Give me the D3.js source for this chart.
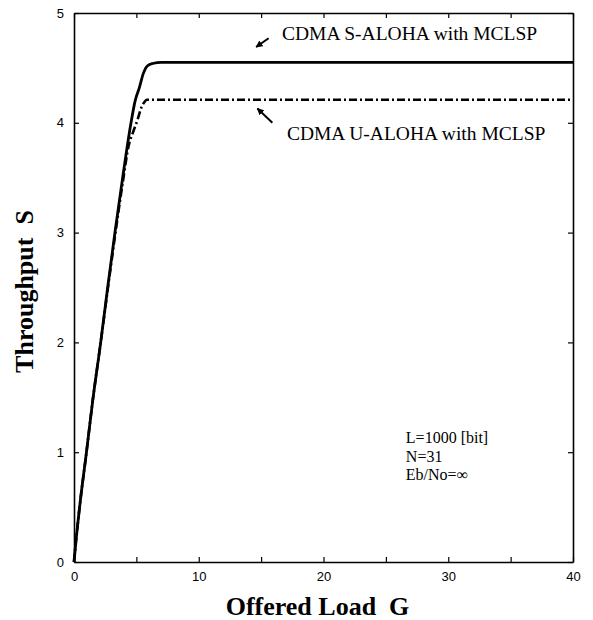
<!DOCTYPE html>
<html>
<head>
<meta charset="utf-8">
<script src="https://cdn.jsdelivr.net/npm/d3@7"></script>
<style>
	body { margin: 0; background: #fff; }
	svg { display: block; }
</style>
</head>
<body>
<div id="chart"></div>
<script>
'use strict';

// offered load G and throughput S
const sAlohaG = [0, 0.15, 0.5, 1.0, 1.5, 2.14, 2.7, 3.28, 3.9, 4.57, 4.9, 5.24, 5.56, 5.9, 6.3, 7, 10, 20, 30, 40];
const sAlohaS = [0, 0.18, 0.55, 1.0, 1.47, 2.0, 2.5, 3.0, 3.5, 4.0, 4.2, 4.32, 4.45, 4.52, 4.54, 4.55, 4.55, 4.55, 4.55, 4.55];

const uAlohaG = [0, 0.15, 0.5, 1.0, 1.5, 2.14, 2.7, 3.3, 3.9, 4.4, 4.75, 5.1, 5.4, 5.65, 5.85, 6.3, 7, 10, 20, 30, 40];
const uAlohaS = [0, 0.18, 0.55, 1.0, 1.47, 2.0, 2.48, 2.98, 3.45, 3.8, 3.92, 4.03, 4.14, 4.19, 4.21, 4.21, 4.21, 4.21, 4.21, 4.21, 4.21];

const xTicks = [0, 5, 10, 15, 20, 25, 30, 35, 40];
const xLabels = [0, 10, 20, 30, 40];
const yTicks = [0, 1, 2, 3, 4, 5];

const seriesNames = ["CDMA S-ALOHA with MCLSP", "CDMA U-ALOHA with MCLSP"];
const paramLines = ["L=1000 [bit]", "N=31", "Eb/No=\u221E"];

const width = 593, height = 620;
const margin = { top: 13, right: 20, bottom: 58, left: 74 };

const svg = d3.select("#chart").append("svg")
	.attr("width", width)
	.attr("height", height);

const x = d3.scaleLinear()
	.domain([0, 40])
	.range([margin.left, width - margin.right]);

const y = d3.scaleLinear()
	.domain([0, 5])
	.range([height - margin.bottom, margin.top]);

// arrow head
svg.append("defs").append("marker")
	.attr("id", "head")
	.attr("viewBox", "0 0 10 10")
	.attr("refX", 9)
	.attr("refY", 5)
	.attr("markerWidth", 7)
	.attr("markerHeight", 7)
	.attr("markerUnits", "userSpaceOnUse")
	.attr("orient", "auto")
	.append("path")
		.attr("d", "M0,0 L10,5 L0,10 z")
		.attr("fill", "#000");

// axes, ticks pointing inward on all four sides
const tickFont = "Liberation Sans, Arial, sans-serif";

const xAxis = svg.append("g")
	.attr("transform", `translate(0,${y(0)})`)
	.call(d3.axisBottom(x)
		.tickValues(xTicks)
		.tickSizeInner(-5)
		.tickSizeOuter(0)
		.tickPadding(10)
		.tickFormat(d => xLabels.includes(d) ? d : ""));

const yAxis = svg.append("g")
	.attr("transform", `translate(${x(0)},0)`)
	.call(d3.axisLeft(y)
		.tickValues(yTicks)
		.tickSizeInner(-5)
		.tickSizeOuter(0)
		.tickPadding(10)
		.tickFormat(d3.format("d")));

const topAxis = svg.append("g")
	.attr("transform", `translate(0,${y(5)})`)
	.call(d3.axisTop(x).tickValues(xTicks).tickSizeInner(-5).tickSizeOuter(0).tickFormat(""));

const rightAxis = svg.append("g")
	.attr("transform", `translate(${x(40)},0)`)
	.call(d3.axisRight(y).tickValues(yTicks).tickSizeInner(-5).tickSizeOuter(0).tickFormat(""));

svg.selectAll(".domain").attr("stroke", "#000").attr("stroke-width", 1.6);
svg.selectAll(".tick line").attr("stroke", "#000").attr("stroke-width", 1.2);
svg.selectAll(".tick text")
	.attr("font-family", tickFont)
	.attr("font-size", 13)
	.attr("fill", "#000");

// curves
const line = d3.line()
	.x(d => x(d[0]))
	.y(d => y(d[1]))
	.curve(d3.curveMonotoneX);

svg.append("path")
	.datum(d3.zip(sAlohaG, sAlohaS))
	.attr("d", line)
	.attr("fill", "none")
	.attr("stroke", "#000")
	.attr("stroke-width", 2.8)
	.attr("stroke-linejoin", "round");

svg.append("path")
	.datum(d3.zip(uAlohaG, uAlohaS))
	.attr("d", line)
	.attr("fill", "none")
	.attr("stroke", "#000")
	.attr("stroke-width", 2.6)
	.attr("stroke-dasharray", "8,3,2,3");

// annotations (data coordinates)
const serif = "Liberation Serif, Times New Roman, serif";
const notes = [
	{ label: seriesNames[0], tx: 16.67, ty: 4.75, ax1: 15.6, ay1: 4.77, ax2: 14.6, ay2: 4.69 },
	{ label: seriesNames[1], tx: 17.07, ty: 3.84, ax1: 15.9, ay1: 4.0, ax2: 14.7, ay2: 4.13 }
];

notes.forEach(n => {
	svg.append("line")
		.attr("x1", x(n.ax1)).attr("y1", y(n.ay1))
		.attr("x2", x(n.ax2)).attr("y2", y(n.ay2))
		.attr("stroke", "#000")
		.attr("stroke-width", 2)
		.attr("marker-end", "url(#head)");
	svg.append("text")
		.attr("x", x(n.tx))
		.attr("y", y(n.ty))
		.attr("font-family", serif)
		.attr("font-size", 19.5)
		.text(n.label);
});

svg.append("g")
	.selectAll("text")
	.data(paramLines)
	.join("text")
		.attr("x", x(26.6))
		.attr("y", (d, i) => y(1.08) + i * 18.5)
		.attr("font-family", serif)
		.attr("font-size", 16)
		.text(d => d);

// axis titles
svg.append("text")
	.attr("x", (x(0) + x(40)) / 2 - 6)
	.attr("y", 615)
	.attr("text-anchor", "middle")
	.attr("font-family", serif)
	.attr("font-weight", "bold")
	.attr("font-size", 26)
	.attr("xml:space", "preserve")
	.text("Offered Load  G");

svg.append("text")
	.attr("transform", `translate(33,${(y(0) + y(5)) / 2 + 4}) rotate(-90)`)
	.attr("text-anchor", "middle")
	.attr("font-family", serif)
	.attr("font-weight", "bold")
	.attr("font-size", 26)
	.attr("xml:space", "preserve")
	.text("Throughput  S");
</script>
</body>
</html>
